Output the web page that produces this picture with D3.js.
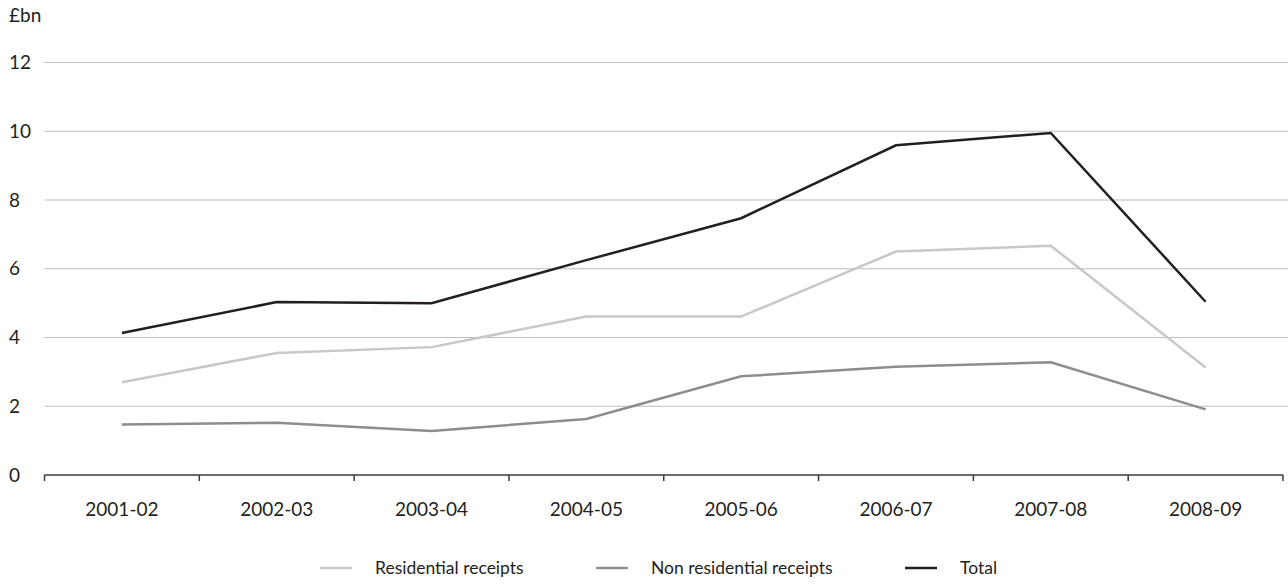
<!DOCTYPE html>
<html>
<head>
<meta charset="utf-8">
<script src="https://cdn.jsdelivr.net/npm/d3@7"></script>
<style>
  html, body { margin: 0; padding: 0; background: #fff; }
  svg { display: block; }
  text { font-family: "Lato", "Noto Sans", sans-serif; fill: #231f20; }
</style>
</head>
<body>
<svg id="chart" width="1288" height="585"></svg>
<script>
// Stamp duty land tax receipts, £bn
const years = ["2001-02", "2002-03", "2003-04", "2004-05", "2005-06", "2006-07", "2007-08", "2008-09"];
const residential = [2.70, 3.55, 3.72, 4.61, 4.61, 6.50, 6.67, 3.13];
const nonResidential = [1.47, 1.52, 1.28, 1.63, 2.87, 3.15, 3.28, 1.91];
const total = [4.13, 5.03, 5.00, 6.25, 7.47, 9.59, 9.95, 5.04];
const yTicks = [0, 2, 4, 6, 8, 10, 12];
const seriesNames = ["Residential receipts", "Non residential receipts", "Total"];
const seriesColors = ["#c8c8c8", "#8d8d8f", "#231f20"];

const svg = d3.select("#chart");
const plotLeft = 44.5, plotRight = 1283, plotTop = 62.5, plotBottom = 475;

const x = d3.scaleBand().domain(years).range([plotLeft, plotRight]);
const y = d3.scaleLinear().domain([0, 12]).range([plotBottom, plotTop]);

// Horizontal gridlines
svg.append("g")
  .selectAll("line")
  .data(yTicks.filter(d => d > 0))
  .join("line")
  .attr("x1", plotLeft).attr("x2", 1288)
  .attr("y1", d => y(d)).attr("y2", d => y(d))
  .attr("stroke", "#bdbdbd").attr("stroke-width", 1.2);

// Y tick labels
svg.append("g")
  .selectAll("text")
  .data(yTicks)
  .join("text")
  .attr("x", 9)
  .attr("y", d => y(d))
  .attr("dy", "0.35em")
  .attr("font-size", 19)
  .text(d => d);

svg.append("text")
  .attr("x", 9).attr("y", 22)
  .attr("font-size", 19)
  .text("£bn");

// X axis
const xAxis = svg.append("g")
  .attr("transform", `translate(0,${plotBottom})`)
  .call(d3.axisBottom(x).tickSize(0).tickPadding(28));
xAxis.select(".domain").attr("stroke", "#3a3a3a").attr("stroke-width", 1.5)
  .attr("d", `M${plotLeft},0H${plotRight}`);
xAxis.selectAll("text").attr("font-size", 19).attr("fill", "#231f20")
  .style("font-family", "Lato, 'Noto Sans', sans-serif");

// Category boundary ticks
const boundaries = years.map(d => x(d)).concat([x(years[years.length - 1]) + x.bandwidth()]);
svg.append("g")
  .selectAll("line")
  .data(boundaries)
  .join("line")
  .attr("x1", d => d).attr("x2", d => d)
  .attr("y1", plotBottom).attr("y2", plotBottom + 6)
  .attr("stroke", "#3a3a3a").attr("stroke-width", 1.5);

// Series lines
const line = d3.line()
  .x((d, i) => x(years[i]) + x.bandwidth() / 2)
  .y(d => y(d));

[residential, nonResidential, total].forEach((vals, k) => {
  svg.append("path")
    .datum(vals)
    .attr("d", line)
    .attr("fill", "none")
    .attr("stroke", seriesColors[k])
    .attr("stroke-width", 2.5)
    .attr("stroke-linejoin", "miter");
});

// Legend
const legendItems = [
  { name: seriesNames[0], color: seriesColors[0], x: 320 },
  { name: seriesNames[1], color: seriesColors[1], x: 596 },
  { name: seriesNames[2], color: seriesColors[2], x: 905 }
];
const legend = svg.append("g").attr("transform", "translate(0,568)");
legendItems.forEach(it => {
  legend.append("line")
    .attr("x1", it.x).attr("x2", it.x + 32)
    .attr("y1", 0).attr("y2", 0)
    .attr("stroke", it.color).attr("stroke-width", 2.5);
  legend.append("text")
    .attr("x", it.x + 55).attr("y", 0)
    .attr("dy", "0.35em")
    .attr("font-size", 17.5)
    .text(it.name);
});
</script>
</body>
</html>
